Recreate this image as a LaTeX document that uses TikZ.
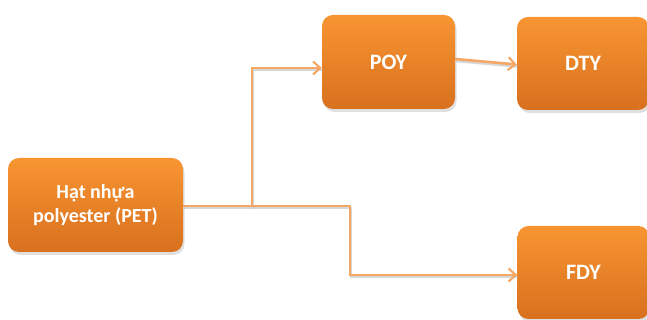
\documentclass[tikz,border=0pt]{standalone}
\usepackage{fontspec}
\setmainfont{Carlito}
\usetikzlibrary{arrows.meta,shadows}
\definecolor{boxtop}{HTML}{F89532}
\definecolor{boxbot}{HTML}{D8701E}
\definecolor{linecol}{HTML}{F5A865}
\tikzset{
  stagebox/.style={rounded corners=11pt, top color=boxtop, bottom color=boxbot,
    draw=none, text=white, font=\bfseries\fontsize{22}{25}\selectfont, align=center,
    inner sep=0pt,
    drop shadow={opacity=0.25, shadow xshift=1.5pt, shadow yshift=-3pt}},
  flow/.style={draw=linecol, line width=2.6pt, line join=miter,
    -{Straight Barb[length=7pt,width=13pt,line width=2.2pt]}},
  flowshadow/.style={draw=black!35, opacity=0.45, line width=2.6pt}
}
\begin{document}
\begin{tikzpicture}[x=1pt,y=1pt]
\useasboundingbox (0,0) rectangle (647,320);
% nodes
\node[stagebox, minimum width=175pt, minimum height=94pt,
  font=\bfseries\fontsize{20}{24}\selectfont] (pet) at (95.5,115) {Hạt nhựa\\polyester (PET)};
\node[stagebox, minimum width=133pt, minimum height=94pt] (poy) at (388.5,258) {POY};
\node[stagebox, minimum width=132pt, minimum height=93pt] (dty) at (583,256.5) {DTY};
\node[stagebox, minimum width=132pt, minimum height=93pt] (fdy) at (583.5,47.5) {FDY};
% junction points
\coordinate (j) at (252,114);
\coordinate (k) at (350,114);
\coordinate (kd) at (350,45);
% connector shadows
\begin{scope}[transform canvas={xshift=1pt,yshift=-2pt}]
\draw[flowshadow] ([yshift=-1pt]pet.east) -- (j) |- ([yshift=-6pt]poy.west);
\draw[flowshadow] (j) -- (k) -- (kd) -- ([yshift=-2.5pt]fdy.west);
\draw[flowshadow] ([yshift=3pt]poy.east) -- ([yshift=-1pt]dty.west);
\end{scope}
% connectors
\draw[flow] ([yshift=-1pt]pet.east) -- (j) |- ([yshift=-6pt]poy.west);
\draw[flow] (j) -- (k) -- (kd) -- ([yshift=-2.5pt]fdy.west);
\draw[flow] ([yshift=3pt]poy.east) -- ([yshift=-1pt]dty.west);
\end{tikzpicture}
\end{document}
